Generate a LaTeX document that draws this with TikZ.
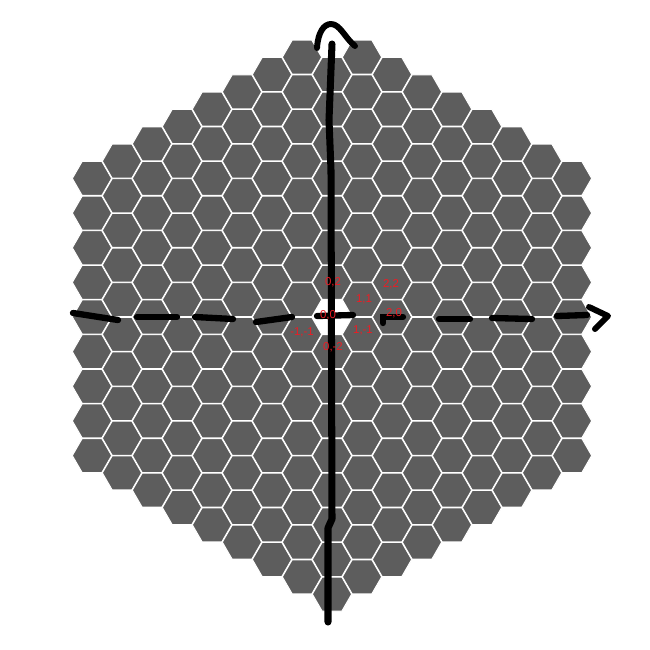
\documentclass[tikz,border=0pt]{standalone}
\usepackage{fontspec}
\setsansfont{Liberation Sans}
\definecolor{cellgray}{RGB}{93,93,93}
\definecolor{paintred}{RGB}{237,28,36}
\tikzset{
  cell/.style       = {fill=cellgray, draw=white, line width=0.6pt},
  axisline/.style   = {line width=4pt, black, line cap=round, line join=round},
  dashline/.style   = {line width=3.6pt, black, line cap=round},
  tipstroke/.style  = {line width=3.4pt, black, line cap=round, line join=round},
  coordlabel/.style = {text=paintred, font=\sffamily\fontsize{6.5}{7}\selectfont,
                       inner sep=0pt},
}

\begin{document}
\begin{tikzpicture}[x=0.02cm, y=-0.02cm]
  \useasboundingbox (0,0) rectangle (650,650);
  \foreach \q in {-8,...,8}
    \foreach \r in {-16,...,16} {
      \pgfmathtruncatemacro\keep{(abs(\q)+abs(\r)<=16) && (mod(abs(\q)+abs(\r),2)==0) && !((\q==0) && ((\r==0) || (\r==16)))}
      \ifnum\keep=1
        \draw[cell] (332+30*\q, 317-17.32*\r) +(0:19.7) -- +(60:19.7) -- +(120:19.7)
          -- +(180:19.7) -- +(240:19.7) -- +(300:19.7) -- cycle;
      \fi
    }

  \coordinate (ybot)   at (328,622);
  \coordinate (ytop)   at (332,44);
  \coordinate (xleft)  at (73,313);
  \coordinate (xright) at (587,315);

  \draw[axisline] (ybot) -- (328,528) -- (332,519) -- (331,170) -- (329,120) -- (ytop);
  \draw[tipstroke] (317,48) .. controls (318,32) and (324,24) .. (331,24)
    .. controls (340,24) and (345,38) .. (355,46);

  \draw[dashline] (xleft) -- (118,320);
  \foreach \xa/\ya/\xb/\yb in {137/317/177/317, 195/317/233/319, 256/322/292/317,
      317/316/353/315, 439/319/470/319, 492/318/532/319}
    \draw[dashline] (\xa,\ya) -- (\xb,\yb);
  \draw[dashline] (383,323) -- (383,317) -- (403,317);
  \draw[dashline] (557,316) -- (xright);
  \draw[tipstroke] (589,307) -- (608,316) -- (595,329);

  \node[coordlabel] (l02)  at (333,282) {0,2};
  \node[coordlabel] (l22)  at (391,284) {2,2};
  \node[coordlabel] (l11)  at (364,299) {1,1};
  \node[coordlabel] (l00)  at (328,315) {0,0};
  \node[coordlabel] (l20)  at (394,313) {2,0};
  \node[coordlabel] (lmm)  at (302,332) {-1,-1};
  \node[coordlabel] (l1m)  at (363,330) {1,-1};
  \node[coordlabel] (l0m)  at (333,347) {0,-2};
\end{tikzpicture}
\end{document}
